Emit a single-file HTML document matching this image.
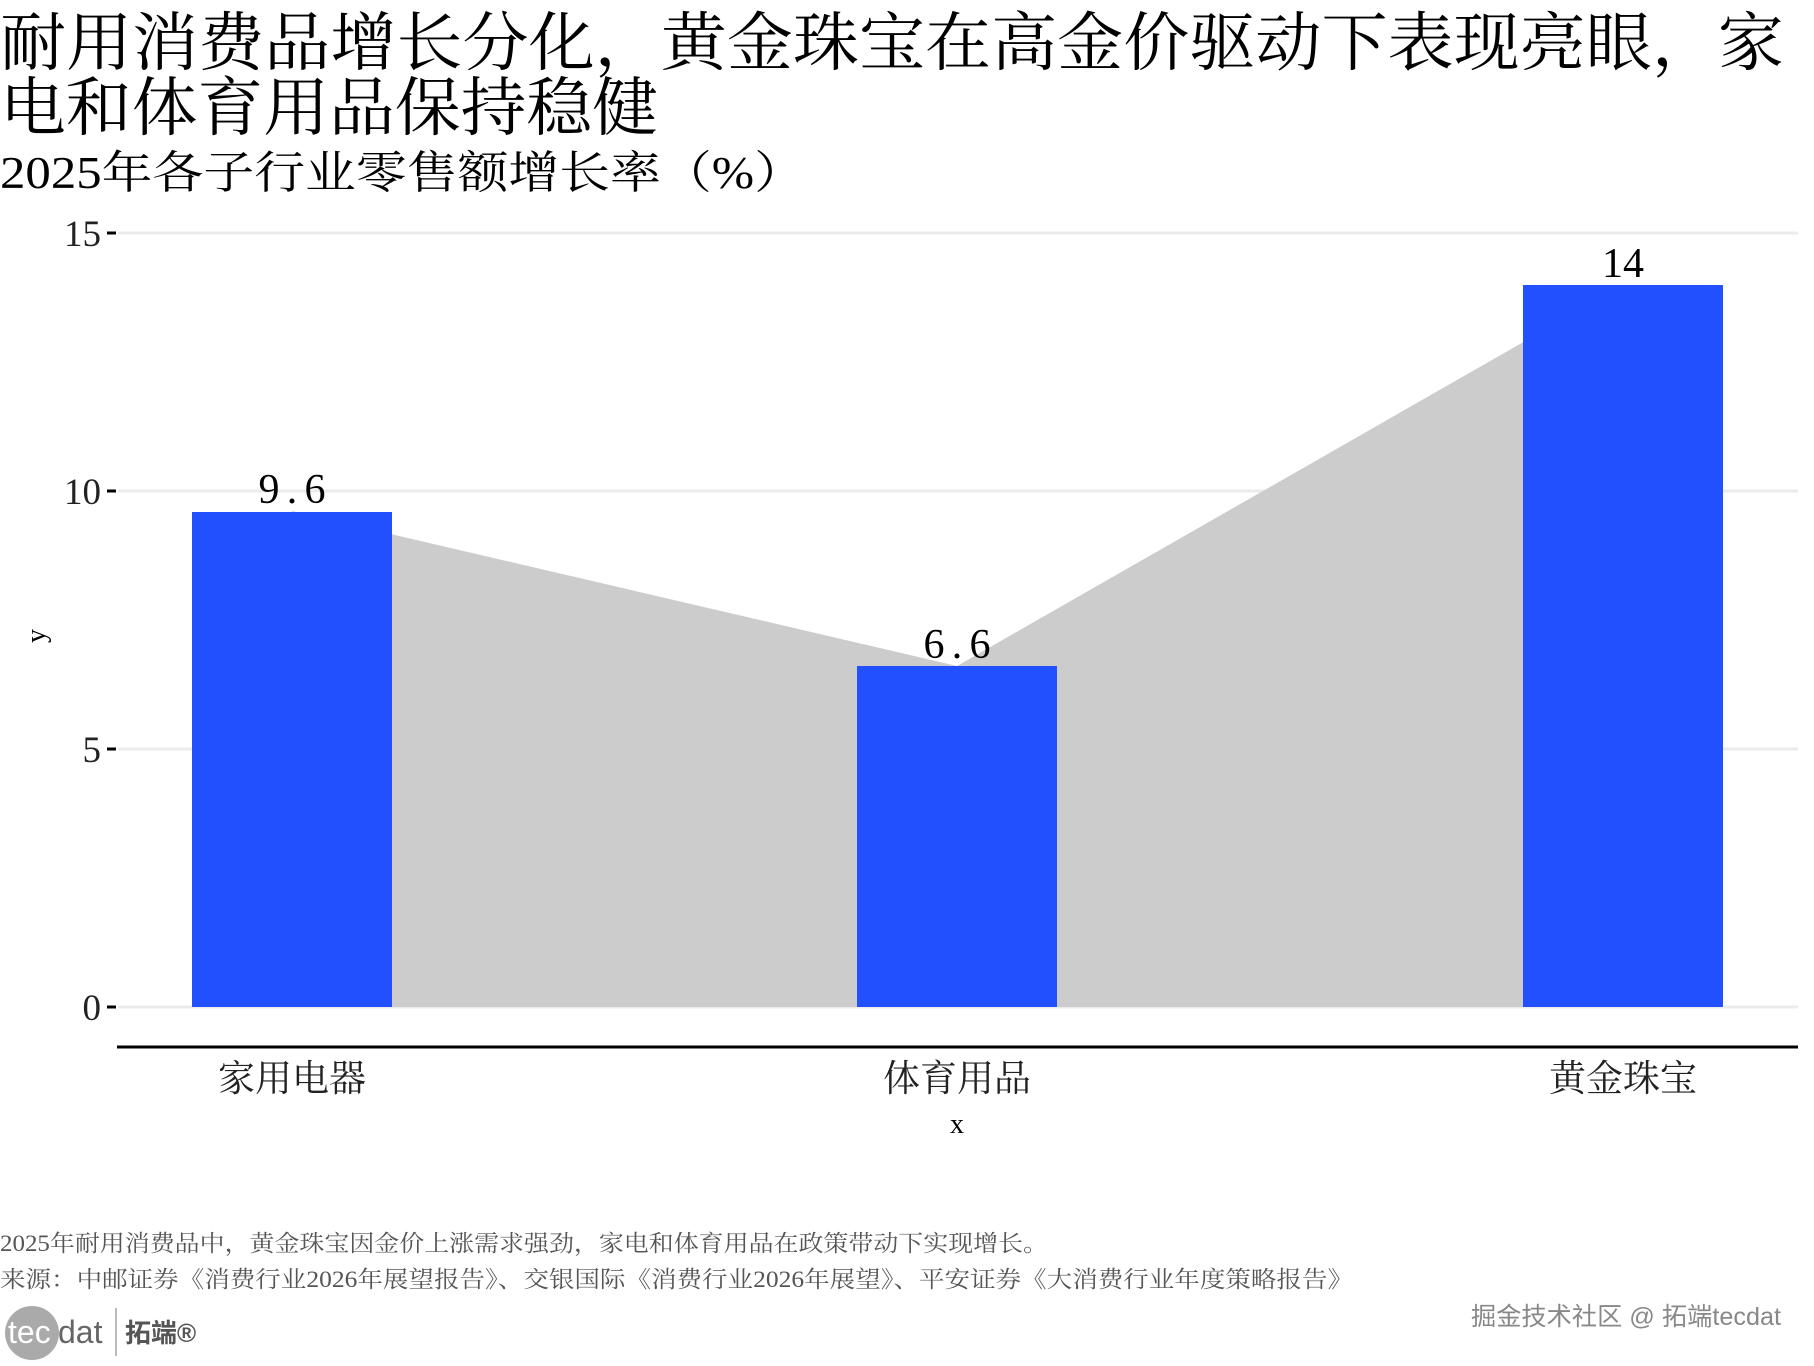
<!DOCTYPE html>
<html><head><meta charset="utf-8"><style>
body{margin:0;background:#fff;}
svg text{font-family:"Liberation Serif","Noto Serif CJK SC",serif;}
</style></head><body>
<svg width="1814" height="1361" viewBox="0 0 1814 1361" xmlns="http://www.w3.org/2000/svg">
<rect width="1814" height="1361" fill="#fff"/>
<text x="0" y="65" font-size="64" fill="#000" textLength="1784" lengthAdjust="spacingAndGlyphs">耐用消费品增长分化，黄金珠宝在高金价驱动下表现亮眼，家</text>
<text x="0" y="130" font-size="64" fill="#000" textLength="658" lengthAdjust="spacingAndGlyphs">电和体育用品保持稳健</text>
<text x="0" y="188" font-size="45" fill="#000" textLength="805" lengthAdjust="spacingAndGlyphs">2025年各子行业零售额增长率（%）</text>
<g stroke="#ebebeb" stroke-width="3">
<line x1="118" y1="233" x2="1798" y2="233"/>
<line x1="118" y1="491" x2="1798" y2="491"/>
<line x1="118" y1="749" x2="1798" y2="749"/>
<line x1="118" y1="1007" x2="1798" y2="1007"/>
</g>
<polygon points="292,1007 292,511 957,666 1623,285 1623,1007" fill="#cccccc"/>
<g fill="#2250ff">
<rect x="192" y="512" width="200" height="495"/>
<rect x="857" y="666" width="200" height="341"/>
<rect x="1523" y="285" width="200" height="722"/>
</g>
<g font-size="42" text-anchor="middle" fill="#000">
<text x="292" y="503" textLength="67" lengthAdjust="spacing">9.6</text>
<text x="957" y="658" textLength="67" lengthAdjust="spacing">6.6</text>
<text x="1623" y="277">14</text>
</g>
<g font-size="37" text-anchor="end" fill="#222">
<text x="101" y="246">15</text>
<text x="101" y="504">10</text>
<text x="101" y="762">5</text>
<text x="101" y="1020">0</text>
</g>
<g stroke="#000" stroke-width="3">
<line x1="107" y1="233" x2="116" y2="233"/>
<line x1="107" y1="491" x2="116" y2="491"/>
<line x1="107" y1="749" x2="116" y2="749"/>
<line x1="107" y1="1007" x2="116" y2="1007"/>
</g>
<line x1="117" y1="1047" x2="1798" y2="1047" stroke="#000" stroke-width="3"/>
<g font-size="37" text-anchor="middle" fill="#222">
<text x="292" y="1091">家用电器</text>
<text x="957" y="1091">体育用品</text>
<text x="1623" y="1091">黄金珠宝</text>
</g>
<text x="957" y="1133" font-size="28" text-anchor="middle">x</text>
<text transform="translate(45,636) rotate(-90)" font-size="28" text-anchor="middle">y</text>
<g font-size="23" fill="#555">
<text x="0" y="1251" textLength="1048" lengthAdjust="spacingAndGlyphs">2025年耐用消费品中，黄金珠宝因金价上涨需求强劲，家电和体育用品在政策带动下实现增长。</text>
<text x="0" y="1287" textLength="1353" lengthAdjust="spacingAndGlyphs">来源：中邮证券《消费行业2026年展望报告》、交银国际《消费行业2026年展望》、平安证券《大消费行业年度策略报告》</text>
</g>
<circle cx="32" cy="1333" r="27" fill="#aaa"/>
<text x="8" y="1343" font-size="32" fill="#fff" style="font-family:'Liberation Sans',sans-serif">tec</text>
<text x="58" y="1343" font-size="32" fill="#666" style="font-family:'Liberation Sans',sans-serif">dat</text>
<line x1="116" y1="1308" x2="116" y2="1356" stroke="#bbb" stroke-width="2"/>
<text x="125" y="1342" font-size="26" font-weight="bold" fill="#555" style="font-family:'Liberation Sans','Noto Sans CJK SC',sans-serif">拓端®</text>
<text x="1471" y="1325" font-size="25" fill="#888" textLength="310" lengthAdjust="spacingAndGlyphs" style="font-family:'Liberation Sans','Noto Sans CJK SC',sans-serif">掘金技术社区 @ 拓端tecdat</text>
</svg>
</body></html>
